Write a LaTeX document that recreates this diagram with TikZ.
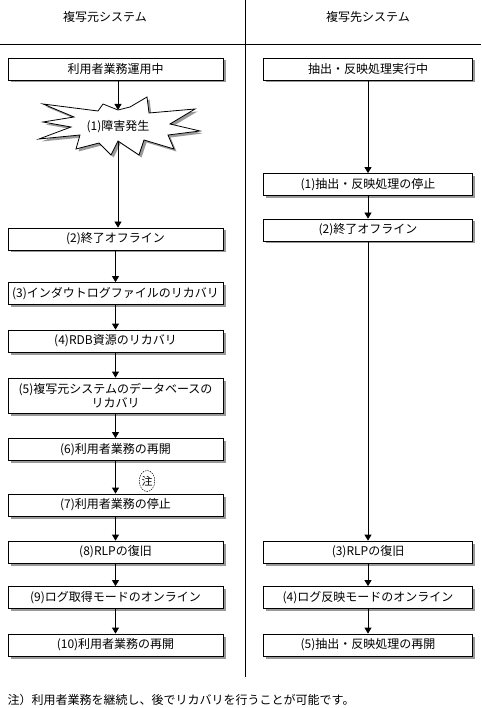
\documentclass[tikz,border=0pt]{standalone}
\usepackage{fontspec}
\setmainfont{Noto Sans CJK JP}
\usepackage{tikz}
\usetikzlibrary{arrows.meta,shadows,shapes.geometric}

\begin{document}
\begin{tikzpicture}[x=1pt,y=-1pt,
    font=\fontsize{12}{15}\selectfont,
    box/.style={draw,fill=white,line width=0.8pt,minimum height=22pt,inner sep=0pt,
      drop shadow={shadow xshift=2.5pt,shadow yshift=-2.5pt,fill=gray!80,opacity=1}},
    lbox/.style={box,minimum width=215pt},
    rbox/.style={box,minimum width=209pt}]
\useasboundingbox (0,0) rectangle (481,708);
\begin{scope}[>={Triangle[length=6pt,width=7pt]},line width=0.8pt]

    % header
    \draw (0,44) -- (481,44);
    \draw (245,0) -- (245,677);
    \node (hsrc) at (105,17) {複写元システム};
    \node (hdst) at (368,17) {複写先システム};

    % source side
    \node[lbox] (run) at (115.5,69) {利用者業務運用中};
    \fill[gray!80,shift={(2.5,2.5)}] (43,104) -- (98,111) -- (103,104) -- (118,110) -- (130,107)
        -- (147,97) -- (149,113) -- (195,109) -- (170,124) -- (200,131) -- (168,135)
        -- (174,149) -- (144,140) -- (139,155) -- (118,141) -- (111,155) -- (99,143)
        -- (76,149) -- (80,135) -- (39,139) -- (71,127) -- (43,122) -- (74,117) -- cycle;
    \draw[fill=white] (43,104) -- (98,111) -- (103,104) -- (118,110) -- (130,107)
        -- (147,97) -- (149,113) -- (195,109) -- (170,124) -- (200,131) -- (168,135)
        -- (174,149) -- (144,140) -- (139,155) -- (118,141) -- (111,155) -- (99,143)
        -- (76,149) -- (80,135) -- (39,139) -- (71,127) -- (43,122) -- (74,117) -- cycle;
    \node (burst) at (118,127) {(1)障害発生};
    \coordinate (burstN) at (118,110);
    \coordinate (burstS) at (118,141);

    \node[lbox] (off1) at (115.5,239) {(2)終了オフライン};
    \node[lbox] (indoubt) at (115.5,293.5) {(3)インダウトログファイルのリカバリ};
    \node[lbox] (rdb) at (115.5,341) {(4)RDB資源のリカバリ};
    \node[lbox,minimum height=35pt,align=center,font=\fontsize{12}{14}\selectfont] (db) at (115.5,395.5)
        {(5)複写元システムのデータベースの\\リカバリ};
    \node[lbox] (resume1) at (115.5,449.5) {(6)利用者業務の再開};
    \node[lbox] (stop) at (115.5,505) {(7)利用者業務の停止};
    \node[lbox] (rlp1) at (115.5,552) {(8)RLPの復旧};
    \node[lbox] (logon1) at (115.5,597.5) {(9)ログ取得モードのオンライン};
    \node[lbox] (resume2) at (115.5,645) {(10)利用者業務の再開};

    \draw[->] (run.south -| burstN) -- (burstN);
    \draw[->] (burstS) -- (burstS |- off1.north);
    \draw[->] (off1) -- (indoubt);
    \draw[->] (indoubt) -- (rdb);
    \draw[->] (rdb) -- (db);
    \draw[->] (db) -- (resume1);
    \draw[->] (resume1) -- (stop);
    \draw[->] (stop) -- (rlp1);
    \draw[->] (rlp1) -- (logon1);
    \draw[->] (logon1) -- (resume2);

    \node[ellipse,draw,line width=0.5pt,dash pattern=on 1.5pt off 1pt,inner sep=0pt,
        minimum width=13pt,minimum height=21pt,font=\fontsize{11}{12}\selectfont] (note) at (147,481) {注};

    % target side
    \node[rbox] (run2) at (368,69) {抽出・反映処理実行中};
    \node[rbox] (halt) at (368,184.5) {(1)抽出・反映処理の停止};
    \node[rbox] (off2) at (368,230) {(2)終了オフライン};
    \node[rbox] (rlp2) at (368,552) {(3)RLPの復旧};
    \node[rbox] (logon2) at (368,597.5) {(4)ログ反映モードのオンライン};
    \node[rbox] (restart) at (368,645) {(5)抽出・反映処理の再開};

    \draw[->] (run2) -- (halt);
    \draw[->] (halt) -- (off2);
    \draw[->] (off2) -- (rlp2);
    \draw[->] (rlp2) -- (logon2);
    \draw[->] (logon2) -- (restart);

    % footnote
    \node[anchor=west] (fn) at (4,700) {注）利用者業務を継続し、後でリカバリを行うことが可能です。};
\end{scope}
\end{tikzpicture}
\end{document}
